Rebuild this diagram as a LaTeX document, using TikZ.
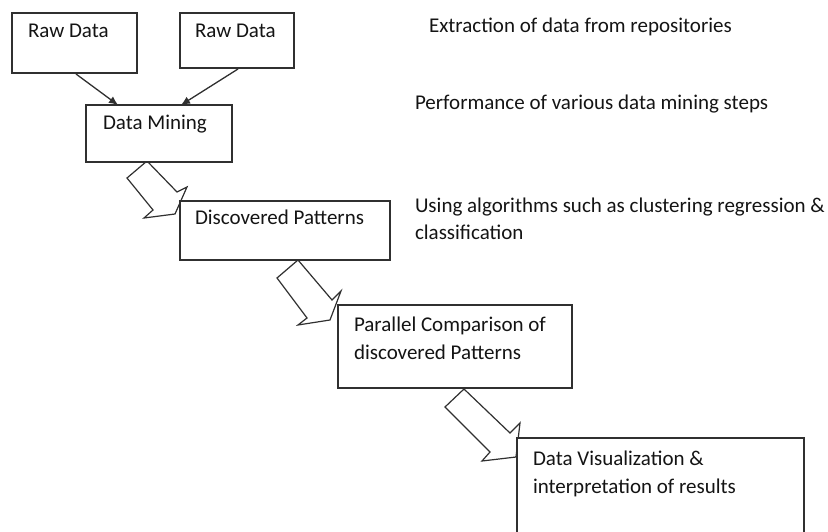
\documentclass[tikz,border=0pt]{standalone}
\usepackage{fontspec}
\setmainfont{Carlito}
\usetikzlibrary{calc,arrows.meta,backgrounds}
\definecolor{linec}{HTML}{303030}
\definecolor{textc}{HTML}{141414}
\begin{document}
\begin{tikzpicture}[x=1pt,y=-1pt,
  box/.style={draw=linec,line width=1.3pt,fill=white,rectangle,anchor=north west,inner sep=0pt,outer sep=0pt},
  txt/.style={anchor=base west,inner sep=0pt,outer sep=0pt,text=textc,font=\fontsize{21}{27.5}\selectfont,align=left},
  thin arrow/.style={draw=linec,line width=1.3pt,-{Latex[length=9pt,width=8pt]}},
  block arrow/.style={draw=linec,line width=1.2pt,fill=white,line join=miter}]
\useasboundingbox (0,0) rectangle (828,532);
\clip (0,0) rectangle (828,532);

% boxes
\node[box,minimum width=125pt,minimum height=60pt] (rd1) at (12,13) {};
\node[box,minimum width=114pt,minimum height=55pt] (rd2) at (180,13) {};
\node[box,minimum width=146pt,minimum height=57pt] (dm) at (86,105) {};
\node[box,minimum width=210pt,minimum height=59pt] (dp) at (180,201) {};
\node[box,minimum width=234pt,minimum height=83pt] (pc) at (338,305) {};
\node[box,minimum width=287pt,minimum height=130pt] (dv) at (517,438) {};

% box texts (base of multi-line nodes = last line)
\node[txt] (t1) at (28,38) {Raw Data};
\node[txt] (t2) at (195,38) {Raw Data};
\node[txt] (t3) at (103,130) {Data Mining};
\node[txt] (t4) at (195,225) {Discovered Patterns};
\node[txt] (t5) at (354,359) {Parallel Comparison of\\discovered Patterns};
\node[txt] (t6) at (533,493) {Data Visualization \&\\interpretation of results};

% side notes
\node[txt] (n1) at (429,33) {Extraction of data from repositories};
\node[txt] (n2) at (415,110) {Performance of various data mining steps};
\node[txt] (n3) at (415,240) {Using algorithms such as clustering regression \&\\classification};

% thin arrows
\draw[thin arrow] ($(rd1.south west)+(64,1)$) -- ($(dm.north west)+(32,0)$);
\draw[thin arrow] ($(rd2.south west)+(58,1)$) -- ($(dm.north west)+(95,0)$);

% block arrows
\begin{scope}[on background layer]
\draw[block arrow] ($(dm.south west)+(61,-1)$) -- ++(-20,17) -- ++(26,32) -- ++(-9,8)
   -- ++(31,-4) -- ++(12,-27) -- ++(-10,5) -- cycle;
\draw[block arrow] ($(dp.south west)+(118,0)$) -- ++(-21,18) -- ++(30,40) -- ++(-9,7)
   -- ++(32,-5) -- ++(11,-29) -- ++(-9,9) -- cycle;
\draw[block arrow] ($(pc.south west)+(126,1)$) -- ++(-19,18) -- ++(45,45) -- ++(-8,9)
   -- ++(34,-4) -- ++(4,-34) -- ++(-10,10) -- cycle;
\end{scope}
\end{tikzpicture}
\end{document}
